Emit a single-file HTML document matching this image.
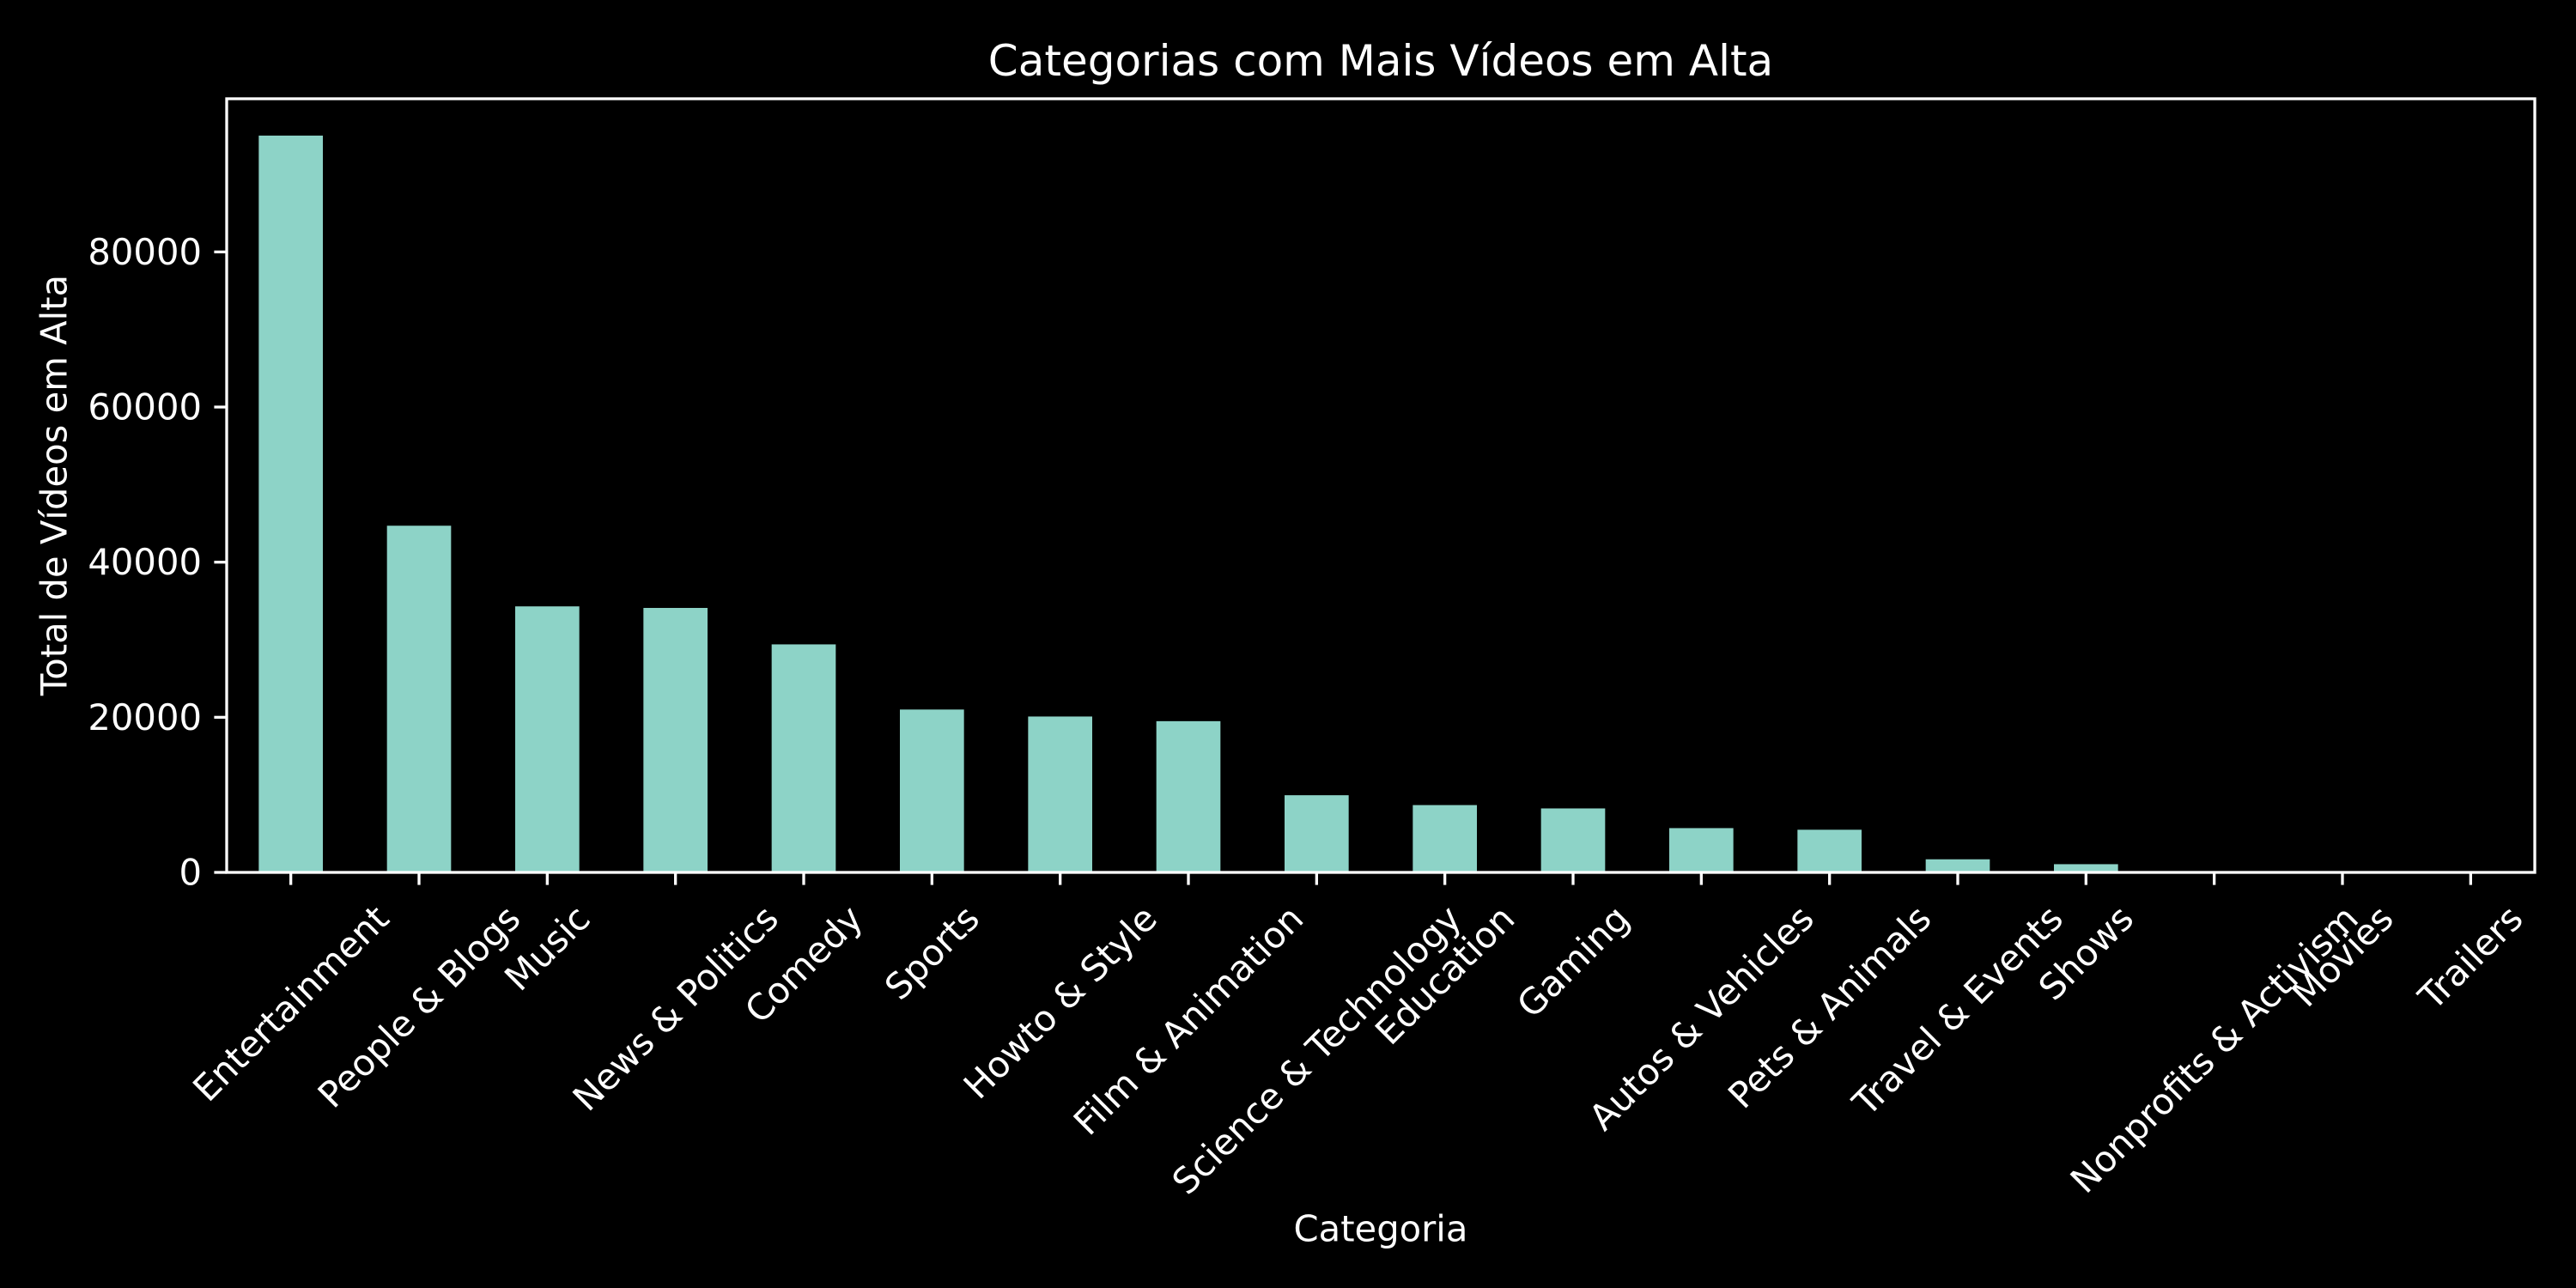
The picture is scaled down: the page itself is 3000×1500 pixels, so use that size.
<!DOCTYPE html>
<html><head><meta charset="utf-8"><style>
html,body{margin:0;padding:0;background:#000;}
svg{display:block;font-family:"DejaVu Sans","Liberation Sans",sans-serif;}
</style></head><body>
<svg id="chart" width="3000" height="1500" viewBox="0 0 3000 1500" xmlns="http://www.w3.org/2000/svg">
<rect width="3000" height="1500" fill="#000"/>
<text x="1608" y="71" fill="#fff" font-size="50" text-anchor="middle" dominant-baseline="central">Categorias com Mais Vídeos em Alta</text>
<text x="1608" y="1431" fill="#fff" font-size="41.7" text-anchor="middle" dominant-baseline="central">Categoria</text>
<text transform="translate(63,565) rotate(-90)" fill="#fff" font-size="41.7" text-anchor="middle" dominant-baseline="central">Total de Vídeos em Alta</text>
<g id="bars"></g><g id="xticks"></g><g id="yticks"></g>
<rect x="264" y="115" width="2688" height="901" fill="none" stroke="#fff" stroke-width="3.3"/>
</svg>
<script>
const categories = ["Entertainment","People & Blogs","Music","News & Politics","Comedy","Sports","Howto & Style","Film & Animation","Science & Technology","Education","Gaming","Autos & Vehicles","Pets & Animals","Travel & Events","Shows","Nonprofits & Activism","Movies","Trailers"];
const values = [95000,44700,34300,34100,29400,21000,20100,19500,9950,8680,8250,5710,5500,1690,1060,50,20,10];
const yTicks = [0,20000,40000,60000,80000];
const NS="http://www.w3.org/2000/svg";
const L=264,R=2952,T=115,B=1016;
const ymax=Math.max(...values)*1.05;
const y=v=>B-(v/ymax)*(B-T);
const step=(R-L)/categories.length;
const x=i=>L+step*(i+0.5);
const bars=document.getElementById('bars'),xt=document.getElementById('xticks'),yt=document.getElementById('yticks');
function mk(t,a){const e=document.createElementNS(NS,t);for(const k in a)e.setAttribute(k,a[k]);return e;}
categories.forEach((c,i)=>{
  const r=mk('rect',{x:x(i)-step*0.25,y:y(values[i]),width:step*0.5,height:B-y(values[i]),fill:'#8dd3c7'});
  
  
  bars.appendChild(r);
  const tk=mk('line',{x1:x(i),x2:x(i),y1:B,y2:B+14.6,stroke:'#fff','stroke-width':3.3});
  
  
  xt.appendChild(tk);
  const t=mk('text',{fill:'#fff','font-size':41.7,'text-anchor':'middle','dominant-baseline':'central'});
  
  
  t.textContent=c;xt.appendChild(t);
  const w=t.getComputedTextLength(),h=48;
  const half=(w+h)*Math.SQRT1_2/2;
  t.setAttribute('transform','translate('+x(i)+','+(B+29.2+half)+') rotate(-45)');
});
yTicks.forEach(v=>{
  const tk=mk('line',{x1:L-14.6,x2:L,y1:y(v),y2:y(v),stroke:'#fff','stroke-width':3.3});
  
  
  yt.appendChild(tk);
  const t=mk('text',{x:L-29,y:y(v),fill:'#fff','font-size':41.7,'text-anchor':'end','dominant-baseline':'central'});
  
  
  t.textContent=v;yt.appendChild(t);
});
</script>
</body></html>
